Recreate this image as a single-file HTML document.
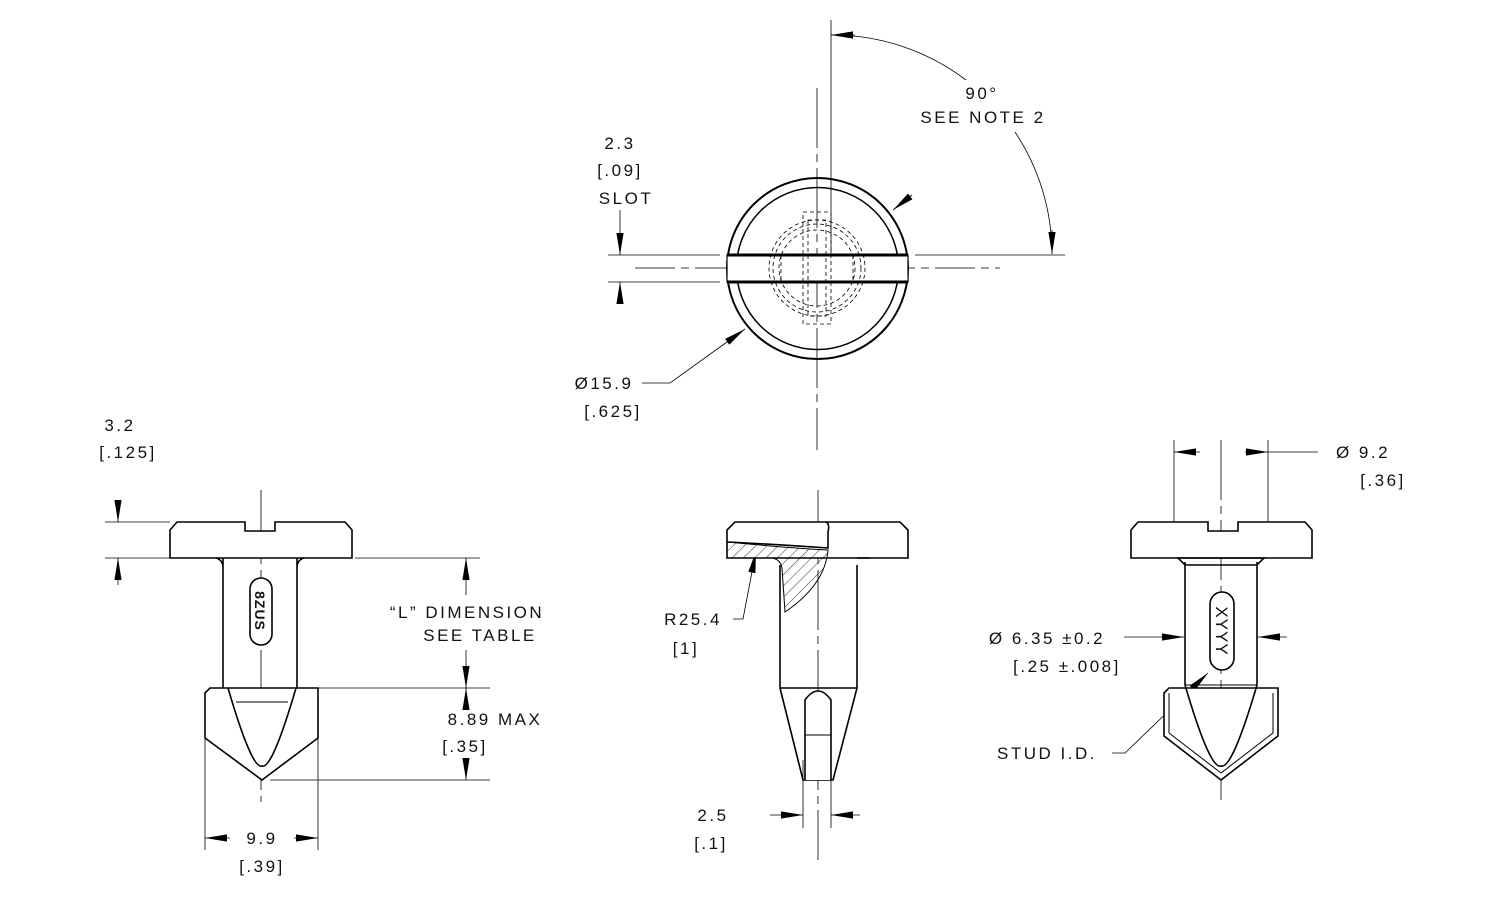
<!DOCTYPE html>
<html><head><meta charset="utf-8"><style>
html,body{margin:0;padding:0;background:#fff;}
svg{display:block}
text{font-family:"Liberation Sans",sans-serif;font-size:17px;letter-spacing:2.5px;fill:#111;}
</style></head><body>
<svg width="1500" height="900" viewBox="0 0 1500 900" xmlns="http://www.w3.org/2000/svg">
<defs>
<marker id="a" viewBox="0 0 10 10" refX="10" refY="5" markerWidth="22" markerHeight="9" orient="auto-start-reverse" markerUnits="userSpaceOnUse" preserveAspectRatio="none"><path d="M0,1 L10,5 L0,9 z" fill="#000"/></marker>
<pattern id="h" width="8" height="8" patternUnits="userSpaceOnUse" patternTransform="rotate(45)"><line x1="0" y1="0" x2="0" y2="8" stroke="#000" stroke-width="0.8"/></pattern>
</defs>
<g fill="none" stroke="#000">
<!-- TOP VIEW -->
<g stroke-width="0.8">
<line x1="817" y1="88" x2="817" y2="450" stroke-dasharray="60,6,8,6"/>
<line x1="635" y1="268" x2="1000" y2="268" stroke-dasharray="40,6,8,6"/>
<line x1="831" y1="20" x2="831" y2="256"/>
<line x1="608" y1="255" x2="720" y2="255"/><line x1="915" y1="255" x2="1065" y2="255"/>
<line x1="608" y1="282" x2="720" y2="282"/>
<path d="M831,35 A221,221 0 0 1 966,80"/>
<path d="M1015,132 A221,221 0 0 1 1052,253"/>
<line x1="620" y1="210" x2="620" y2="255" marker-end="url(#a)"/>
<line x1="620" y1="302" x2="620" y2="282" marker-end="url(#a)"/>
<polyline points="642,383 670,383 745,329" marker-end="url(#a)"/>
<line x1="912" y1="195" x2="893" y2="210" marker-end="url(#a)"/>
</g>
<line x1="855" y1="35" x2="831" y2="35" stroke-width="0.8" marker-end="url(#a)"/>
<line x1="1052" y1="230" x2="1052" y2="254" stroke-width="0.8" marker-end="url(#a)"/>
<circle cx="817.5" cy="268.5" r="90.5" stroke-width="2"/>
<circle cx="817.5" cy="268.5" r="81" stroke-width="1.5"/>
<rect x="727" y="255" width="181" height="27" fill="#fff" stroke-width="1.2"/>
<line x1="727" y1="255" x2="908" y2="255" stroke-width="3"/>
<line x1="727" y1="282" x2="908" y2="282" stroke-width="3"/>
<g stroke-width="0.8" stroke-dasharray="4,3">
<circle cx="817" cy="268" r="48"/><circle cx="817" cy="268" r="44"/><circle cx="817" cy="268" r="38"/>
<rect x="803" y="212" width="28" height="112"/><rect x="808" y="220" width="18" height="96"/>
<line x1="781" y1="255" x2="781" y2="282"/><line x1="853" y1="255" x2="853" y2="282"/>
</g>
<!-- LEFT VIEW -->
<g stroke-width="0.8">
<line x1="261" y1="490" x2="261" y2="802" stroke-dasharray="60,6,8,6"/>
<line x1="105" y1="522" x2="170" y2="522"/><line x1="105" y1="558" x2="170" y2="558"/>
<line x1="355" y1="558" x2="480" y2="558"/><line x1="318" y1="688" x2="490" y2="688"/><line x1="270" y1="780" x2="490" y2="780"/>
<line x1="118" y1="500" x2="118" y2="522" marker-end="url(#a)"/>
<line x1="118" y1="585" x2="118" y2="558" marker-end="url(#a)"/>
<line x1="205" y1="738" x2="205" y2="850"/><line x1="318" y1="738" x2="318" y2="850"/>
<line x1="230" y1="838" x2="205" y2="838" marker-end="url(#a)"/>
<line x1="294" y1="838" x2="318" y2="838" marker-end="url(#a)"/>
<line x1="466" y1="595" x2="466" y2="558" marker-end="url(#a)"/>
<line x1="466" y1="650" x2="466" y2="688" marker-end="url(#a)"/>
<line x1="466" y1="708" x2="466" y2="688" marker-end="url(#a)"/>
<line x1="466" y1="758" x2="466" y2="780" marker-end="url(#a)"/>
</g>
<g stroke-width="1.6" fill="#fff">
<path d="M177,522 L245,522 L245,531 L275,531 L275,522 L345,522 L352,530 L352,558 L170,558 L170,530 Z"/>
<path d="M223,558 L223,688 M297,558 L297,688 M216,558 Q223,560 223,568 M304,558 Q297,560 297,568" fill="none"/>
<path d="M205,693 L210,688 L318,688 L318,738 L262,780 L205,738 Z"/>
<path d="M228,688 Q252,770 262,766 Q272,770 296,688" fill="none"/>
<line x1="236" y1="702" x2="288" y2="702" stroke-width="1"/>
<line x1="223" y1="688" x2="297" y2="688" stroke-width="1"/>
<rect x="250" y="578" width="22" height="67" rx="11"/>
</g>
<!-- MIDDLE VIEW -->
<g stroke-width="0.8">
<line x1="818" y1="490" x2="818" y2="860" stroke-dasharray="60,6,8,6"/>
<line x1="803" y1="760" x2="803" y2="828"/><line x1="831" y1="760" x2="831" y2="828"/>
<line x1="770" y1="815" x2="803" y2="815" marker-end="url(#a)"/>
<line x1="860" y1="815" x2="831" y2="815" marker-end="url(#a)"/>
<polyline points="733,619 743,619 756,551" marker-end="url(#a)"/>
</g>
<g stroke-width="1.6">
<path d="M735,522 L900,522 L908,530 L908,558 L727,558 L727,530 Z" fill="#fff"/>
<path d="M727,542 Q770,544 828,548 L828,532 Q830,524 826,522" fill="none"/>
<path d="M727,542 Q790,548 828,550 Q825,585 785,612 L782,568 Q780,558 770,558 L727,558 Z" fill="url(#h)" stroke-width="1"/>
<path d="M780,565 L780,688 L803,780 L833,780 L857,688 L857,565 M857,558 L870,558 M780,688 L857,688" fill="none"/>
<path d="M805,780 L805,700 Q818,682 831,700 L831,780" fill="#fff"/>
<line x1="805" y1="735" x2="831" y2="735" stroke-width="1"/>
</g>
<!-- RIGHT VIEW -->
<g stroke-width="0.8">
<line x1="1221" y1="440" x2="1221" y2="800" stroke-dasharray="60,6,8,6"/>
<line x1="1174" y1="440" x2="1174" y2="548"/><line x1="1268" y1="440" x2="1268" y2="548"/>
<line x1="1200" y1="452" x2="1174" y2="452" marker-end="url(#a)"/>
<line x1="1245" y1="452" x2="1268" y2="452" marker-end="url(#a)"/>
<line x1="1268" y1="452" x2="1318" y2="452"/>
<line x1="1124" y1="637" x2="1184" y2="637" marker-end="url(#a)"/>
<line x1="1287" y1="637" x2="1258" y2="637" marker-end="url(#a)"/>
<polyline points="1112,753 1125,753 1208,673" marker-end="url(#a)"/>
</g>
<g stroke-width="1.6" fill="#fff">
<path d="M1138,522 L1208,522 L1208,531 L1238,531 L1238,522 L1305,522 L1312,530 L1312,558 L1131,558 L1131,530 Z"/>
<path d="M1185,562 L1185,685 M1257,562 L1257,685 M1178,558 L1264,558 L1257,565 L1185,565 Z" fill="none"/>
<path d="M1164,693 L1169,688 L1278,688 L1278,736 L1221,780 L1164,736 Z"/>
<path d="M1169,733 L1169,693 M1273,693 L1273,733 L1221,773 L1169,733" fill="none" stroke-width="1"/>
<path d="M1185,685 Q1210,770 1221,766 Q1232,770 1257,685" fill="none"/>
<line x1="1185" y1="685" x2="1257" y2="685" stroke-width="1"/>
<rect x="1210" y="592" width="24" height="78" rx="12"/>
</g>
</g>
<!-- TEXT -->
<text x="982" y="99" text-anchor="middle">90°</text>
<text x="983" y="123" text-anchor="middle">SEE NOTE 2</text>
<text x="620" y="149" text-anchor="middle">2.3</text>
<text x="620" y="176" text-anchor="middle">[.09]</text>
<text x="626" y="204" text-anchor="middle">SLOT</text>
<text x="604" y="389" text-anchor="middle">Ø15.9</text>
<text x="613" y="417" text-anchor="middle">[.625]</text>
<text x="120" y="431" text-anchor="middle">3.2</text>
<text x="128" y="458" text-anchor="middle">[.125]</text>
<text x="467" y="618" text-anchor="middle">“L” DIMENSION</text>
<text x="480" y="641" text-anchor="middle">SEE TABLE</text>
<text x="495" y="725" text-anchor="middle">8.89 MAX</text>
<text x="465" y="752" text-anchor="middle">[.35]</text>
<text x="262" y="844" text-anchor="middle">9.9</text>
<text x="262" y="872" text-anchor="middle">[.39]</text>
<text x="693" y="625" text-anchor="middle">R25.4</text>
<text x="686" y="654" text-anchor="middle">[1]</text>
<text x="713" y="821" text-anchor="middle">2.5</text>
<text x="711" y="849" text-anchor="middle">[.1]</text>
<text x="1363" y="458" text-anchor="middle">Ø 9.2</text>
<text x="1383" y="486" text-anchor="middle">[.36]</text>
<text x="1047" y="644" text-anchor="middle">Ø 6.35 ±0.2</text>
<text x="1067" y="672" text-anchor="middle">[.25 ±.008]</text>
<text x="1047" y="759" text-anchor="middle">STUD I.D.</text>
<text transform="translate(255,611) rotate(90)" text-anchor="middle" style="font-size:14px;letter-spacing:1px;font-weight:bold">8ZUS</text>
<text transform="translate(1216,631) rotate(90)" text-anchor="middle" style="font-size:17px;letter-spacing:1px">XYYY</text>
</svg>
</body></html>
